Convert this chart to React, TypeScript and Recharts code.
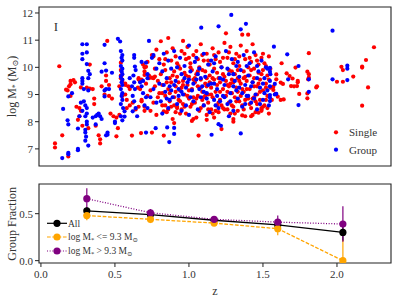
import {
  ScatterChart,
  Scatter,
  ComposedChart,
  Line,
  ErrorBar,
  XAxis,
  YAxis,
  ReferenceArea,
  Customized,
} from 'recharts'

// [z, log M*]
const singlePoints: [number, number][] = [
  [0.095, 7.2], [0.095, 7.05], [0.124, 10.04], [0.144, 7.5], [0.185, 6.72], [0.18, 9.15], [0.17, 9.18], [0.19, 9.3],
  [0.2, 9.5], [0.23, 9.45], [0.2, 8.95], [0.27, 9.26], [0.24, 8.55], [0.26, 8.5], [0.27, 8.4], [0.26, 8.2],
  [0.25, 8.07], [0.28, 7.85], [0.32, 7.76], [0.31, 9.25], [0.33, 9.22], [0.35, 9.2], [0.36, 8.85], [0.36, 8.65],
  [0.37, 7.85], [0.39, 7.5], [0.4, 7.35], [0.4, 7.2], [0.41, 9.3], [0.448, 10.97], [0.44, 9.7], [0.44, 9.5],
  [0.46, 9.35], [0.43, 9.0], [0.46, 8.95], [0.48, 8.85], [0.47, 8.3], [0.49, 8.2], [0.51, 8.15], [0.53, 8.25],
  [0.51, 7.46], [0.52, 7.76], [0.54, 9.7], [0.55, 9.5], [0.57, 9.35], [0.55, 8.95], [0.57, 9.0], [0.58, 8.8],
  [0.6, 9.2], [0.6, 8.6], [0.58, 8.5], [0.62, 8.7], [0.64, 8.45], [0.615, 7.49], [0.676, 7.58], [0.66, 8.55],
  [0.68, 8.8], [0.7, 8.4], [0.22, 9.53], [0.2, 9.38], [0.54, 10.17], [0.54, 9.9], [0.545, 9.7], [0.54, 9.6],
  [0.53, 9.3], [0.33, 10.1], [0.7, 10.0], [0.71, 10.02], [0.76, 10.4], [0.7, 9.72], [0.68, 9.55], [0.73, 9.6],
  [0.75, 9.62], [0.77, 9.66], [0.66, 9.6], [0.67, 9.5], [0.655, 9.25], [0.57, 9.4], [0.59, 9.3],
  [0.66, 9.55], [0.67, 9.2], [0.68, 8.75], [0.69, 10.1], [0.7, 9.85], [0.7, 8.55], [0.71, 9.4], [0.72, 10.2],
  [0.72, 8.95], [0.73, 9.7], [0.74, 8.4], [0.74, 9.15], [0.75, 10.45], [0.76, 9.6], [0.76, 8.7], [0.77, 9.95],
  [0.77, 9.3], [0.78, 8.25], [0.78, 10.65], [0.79, 9.5], [0.79, 8.9], [0.8, 10.3], [0.8, 9.05], [0.75, 7.6],
  [0.81, 10.96], [0.81, 9.75], [0.82, 8.6], [0.82, 9.35], [0.83, 10.1], [0.83, 7.49], [0.84, 8.95], [0.84, 9.9],
  [0.85, 10.55], [0.85, 8.35], [0.86, 11.08], [0.86, 9.2], [0.87, 9.6], [0.87, 8.75], [0.88, 10.25], [0.88, 9.45],
  [0.89, 8.1], [0.89, 10.7], [0.9, 7.95], [0.9, 9.85], [0.9, 8.9], [0.91, 9.3], [0.91, 10.4], [0.92, 8.5],
  [0.92, 9.65], [0.93, 10.05], [0.93, 8.8], [0.94, 9.15], [0.94, 9.95], [0.95, 8.45], [0.95, 10.6],
  [0.96, 10.97], [0.96, 9.5], [0.96, 8.65], [0.97, 9.8], [0.97, 9.0], [0.98, 10.3], [0.98, 8.3], [0.99, 9.35],
  [0.99, 10.75], [1.0, 8.85], [1.0, 9.65], [1.01, 10.15], [1.01, 8.55], [1.02, 9.2], [1.02, 9.9], [1.03, 8.1],
  [1.03, 10.45], [1.04, 9.45], [1.04, 8.7], [1.05, 9.75], [1.05, 10.6], [1.06, 8.95], [1.06, 9.3], [1.065, 7.49],
  [1.07, 10.0], [1.07, 8.4], [1.08, 9.55], [1.08, 10.85], [1.09, 8.8], [1.09, 9.1], [1.1, 10.25], [1.1, 8.6],
  [1.11, 9.85], [1.11, 9.4], [1.12, 8.25], [1.12, 10.5], [1.13, 9.0], [1.13, 8.7], [1.14, 9.7], [1.14, 10.1],
  [1.15, 8.45], [1.15, 9.25], [1.16, 10.7], [1.16, 8.9], [1.17, 9.55], [1.17, 8.15], [1.18, 10.3], [1.18, 9.1],
  [1.19, 8.6], [1.19, 9.8], [1.2, 10.55], [1.2, 8.35], [1.21, 9.45], [1.21, 8.8], [1.22, 7.73], [1.22, 10.0],
  [1.23, 9.2], [1.23, 8.5], [1.24, 9.65], [1.24, 10.9], [1.25, 11.25], [1.25, 8.95],
  [1.26, 9.35], [1.26, 10.35], [1.27, 8.7], [1.27, 9.9], [1.28, 8.3], [1.28, 10.75], [1.29, 9.55], [1.29, 9.05],
  [1.3, 10.15], [1.3, 8.55], [1.31, 9.75], [1.31, 8.9], [1.32, 10.5], [1.32, 9.25], [1.33, 8.4], [1.33, 9.6],
  [1.34, 10.05], [1.34, 8.75], [1.35, 9.4], [1.35, 10.8], [1.36, 11.2], [1.36, 8.6], [1.37, 9.85], [1.37, 9.1],
  [1.38, 10.3], [1.38, 8.2], [1.39, 9.5], [1.39, 10.6], [1.4, 11.2], [1.4, 8.85],
  [1.41, 9.7], [1.41, 9.2], [1.42, 10.2], [1.42, 8.5], [1.43, 9.45], [1.43, 10.85], [1.44, 8.9], [1.44, 9.95],
  [1.45, 8.35], [1.45, 10.45], [1.46, 9.3], [1.46, 8.65], [1.47, 9.8], [1.47, 10.1], [1.48, 8.8], [1.48, 9.55],
  [1.49, 10.35], [1.49, 8.45], [1.5, 9.15], [1.5, 9.9], [1.51, 8.6], [1.52, 10.05], [1.52, 9.4], [1.53, 8.95],
  [1.53, 9.7], [1.54, 10.4], [1.54, 8.3], [1.55, 9.25],
  [0.91, 8.35], [0.93, 9.45], [0.95, 9.25], [0.97, 8.55], [0.98, 9.7], [1.0, 9.15], [1.01, 10.0], [1.03, 8.9],
  [1.04, 9.6], [1.06, 10.3], [1.08, 8.5], [1.09, 9.9], [1.11, 8.95], [1.12, 9.6], [1.13, 10.25], [1.15, 9.0],
  [1.16, 8.3], [1.17, 9.95], [1.19, 9.35], [1.2, 8.7], [1.21, 10.2], [1.23, 9.75], [1.24, 8.45], [1.26, 9.1],
  [1.27, 10.55], [1.28, 9.4], [1.29, 8.6], [1.31, 10.3], [1.32, 8.75], [1.33, 9.9], [1.34, 9.5], [1.36, 9.2],
  [1.37, 8.45], [1.38, 9.65], [1.4, 10.0], [1.41, 8.65], [1.42, 9.9], [1.44, 9.3], [1.45, 8.75], [1.46, 10.25],
  [1.48, 9.1], [1.5, 8.55], [1.51, 10.15], [1.52, 8.8], [1.54, 9.55], [1.02, 8.03], [1.05, 8.15], [1.12, 8.07],
  [1.3, 8.1], [1.3, 8.0], [1.36, 8.23], [1.42, 8.2], [1.43, 8.25], [1.49, 8.4], [1.49, 8.5], [0.84, 8.6],
  [0.86, 8.45], [0.83, 8.38], [0.92, 8.55], [0.94, 8.3], [1.47, 8.33], [1.56, 8.8],
  [0.87, 9.05], [0.89, 9.7], [0.9, 8.6], [0.92, 10.15], [0.94, 8.75], [0.96, 9.35], [0.97, 10.5], [0.99, 8.95],
  [1.0, 10.35], [1.02, 8.65], [1.03, 9.55], [1.05, 8.85], [1.06, 9.85], [1.08, 9.25], [1.09, 10.45], [1.1, 8.9],
  [1.12, 9.3], [1.13, 8.45], [1.14, 9.45], [1.16, 9.6], [1.17, 10.45], [1.18, 8.4], [1.2, 9.6], [1.21, 9.1],
  [1.22, 8.6], [1.23, 10.35], [1.25, 9.5], [1.26, 8.45], [1.27, 9.3], [1.29, 9.85], [1.3, 9.45], [1.31, 8.3],
  [1.33, 9.1], [1.34, 10.4], [1.35, 8.95], [1.37, 9.6], [1.38, 8.8], [1.39, 9.2], [1.41, 10.35], [1.43, 8.85],
  [1.44, 9.6], [1.46, 9.0], [1.47, 9.4], [1.49, 9.75], [1.5, 10.5], [1.52, 9.25], [1.53, 8.5], [1.55, 9.95],
  [0.82, 9.05], [0.84, 10.3], [0.85, 9.45], [0.88, 8.55], [0.91, 9.1],
  [1.626, 10.15], [1.59, 9.74], [1.59, 9.56], [1.57, 9.29], [1.57, 9.17], [1.585, 9.02], [1.6, 8.92], [1.62, 9.44],
  [1.635, 9.39], [1.64, 8.82], [1.62, 8.8], [1.66, 9.78], [1.68, 9.68], [1.7, 9.59], [1.69, 9.31], [1.71, 9.3],
  [1.73, 9.31], [1.72, 9.99], [1.735, 9.5], [1.735, 9.45], [1.745, 9.02], [1.8, 9.84], [1.81, 9.75], [1.81, 9.62],
  [1.805, 9.56], [1.81, 10.52], [1.8, 9.04], [1.8, 8.86], [1.86, 9.26], [1.865, 9.3], [2.0, 9.47], [2.04, 9.47],
  [2.03, 10.02], [2.04, 9.9], [2.11, 9.66], [2.17, 10.03], [2.17, 9.99], [2.196, 10.27], [2.25, 10.74], [2.21, 9.26],
  [2.17, 8.59],
]

const groupPoints: [number, number][] = [
  [0.144, 6.66], [0.185, 6.85], [0.185, 6.8], [0.15, 8.47], [0.18, 8.05], [0.185, 7.9], [0.185, 8.93], [0.21, 9.05],
  [0.25, 7.75], [0.25, 7.0], [0.25, 6.95], [0.28, 9.6], [0.28, 9.5], [0.29, 9.2], [0.28, 10.85], [0.31, 10.85],
  [0.28, 10.5], [0.28, 10.3], [0.31, 10.55], [0.31, 10.12], [0.32, 9.87], [0.33, 9.75], [0.32, 9.6], [0.28, 9.4],
  [0.32, 9.15], [0.27, 8.7], [0.29, 8.75], [0.3, 8.6], [0.31, 8.5], [0.28, 8.4], [0.31, 8.3], [0.3, 8.2],
  [0.26, 8.2], [0.31, 8.0], [0.31, 7.9], [0.3, 7.7], [0.3, 7.6], [0.305, 7.45], [0.3, 7.3], [0.32, 7.12],
  [0.37, 7.9], [0.35, 8.15], [0.37, 8.2], [0.38, 8.25], [0.4, 8.2], [0.41, 8.1], [0.39, 8.3], [0.43, 9.15],
  [0.44, 9.2], [0.43, 10.83], [0.43, 10.15], [0.44, 9.88], [0.41, 9.84], [0.44, 7.5], [0.45, 7.6], [0.46, 9.2],
  [0.48, 9.8], [0.5, 8.0], [0.5, 7.95], [0.43, 8.93], [0.45, 7.52],
  [0.52, 11.05], [0.535, 10.95], [0.54, 10.6], [0.55, 10.45], [0.545, 10.35], [0.55, 10.25], [0.54, 10.05],
  [0.55, 9.95], [0.545, 9.85], [0.55, 9.75], [0.54, 9.65], [0.55, 9.55], [0.545, 9.45], [0.55, 9.35], [0.54, 9.2],
  [0.55, 9.05], [0.545, 8.95], [0.55, 8.8], [0.54, 8.65], [0.555, 8.5], [0.565, 8.38], [0.54, 8.2], [0.565, 8.19],
  [0.55, 8.05],
  [0.63, 10.45], [0.63, 10.35], [0.635, 10.03], [0.64, 9.9], [0.625, 9.7], [0.63, 9.45], [0.635, 9.2], [0.62, 8.95],
  [0.63, 8.75], [0.64, 8.5], [0.62, 8.38], [0.65, 8.2], [0.6, 9.6], [0.615, 9.3],
  [0.68, 10.2], [0.71, 10.17], [0.73, 10.97], [0.75, 10.35], [0.76, 10.45], [0.78, 9.95], [0.72, 9.75], [0.72, 9.6],
  [0.67, 9.45], [0.68, 9.3], [0.69, 9.5], [0.71, 7.6], [0.775, 7.76], [0.72, 8.5], [0.74, 8.9], [0.69, 9.05],
  [0.76, 9.2], [0.78, 8.7], [0.7, 8.6], [0.71, 8.9],
  [0.8, 10.15], [0.8, 9.4], [0.81, 8.75], [0.82, 9.85], [0.82, 8.3], [0.83, 10.5], [0.84, 9.1], [0.85, 9.6],
  [0.853, 7.79], [0.86, 8.5], [0.86, 10.25], [0.867, 7.25], [0.87, 9.3], [0.88, 9.95], [0.89, 8.9], [0.9, 7.77],
  [0.9, 7.55], [0.9, 10.6], [0.91, 9.5], [0.92, 8.65], [0.93, 9.2], [0.94, 10.35], [0.95, 9.75], [0.95, 8.4],
  [0.96, 9.0], [0.97, 10.05], [0.98, 8.6], [0.99, 9.45], [1.0, 10.8], [1.0, 8.25], [1.01, 9.85], [1.02, 9.15],
  [1.03, 8.75], [1.04, 10.2], [1.05, 9.55], [1.06, 8.45], [1.07, 9.95], [1.083, 11.46], [1.08, 8.9], [1.09, 9.3],
  [1.1, 10.5], [1.1, 8.6], [1.11, 9.65], [1.12, 9.05], [1.13, 10.1], [1.14, 8.35], [1.153, 7.52], [1.15, 9.4],
  [1.16, 9.85], [1.17, 8.8], [1.18, 10.4], [1.19, 9.2], [1.2, 11.51], [1.2, 7.91], [1.2, 8.5], [1.21, 9.6],
  [1.216, 7.85], [1.22, 10.0], [1.23, 8.95], [1.24, 9.35], [1.25, 10.6], [1.26, 8.65], [1.27, 9.75], [1.28, 9.05],
  [1.286, 11.93], [1.29, 10.3], [1.3, 8.4], [1.31, 9.5], [1.32, 10.05], [1.33, 8.85], [1.34, 9.25], [1.35, 7.57],
  [1.35, 11.4], [1.35, 9.9], [1.36, 8.55], [1.37, 10.45], [1.38, 9.35], [1.385, 11.6], [1.39, 8.95], [1.4, 9.7],
  [1.41, 10.15], [1.42, 8.7], [1.43, 9.45], [1.44, 10.55], [1.45, 9.0], [1.46, 8.45], [1.47, 9.85], [1.48, 9.25],
  [1.49, 10.25], [1.5, 8.8], [1.51, 9.6], [1.52, 10.0], [1.53, 9.15], [1.54, 8.6], [1.55, 9.75],
  [0.88, 9.15], [0.93, 8.95], [0.97, 9.6], [1.01, 8.9], [1.07, 9.2], [1.13, 9.35], [1.18, 8.6], [1.24, 8.9],
  [1.3, 9.3], [1.34, 9.65], [1.4, 8.95], [1.46, 9.6], [1.5, 9.4], [1.27, 8.2], [1.17, 10.15], [1.06, 9.75],
  [0.87, 8.8], [0.9, 9.35], [0.92, 10.0], [0.95, 9.1], [0.98, 9.25], [1.0, 9.55], [1.03, 9.4], [1.05, 10.35],
  [1.08, 9.6], [1.1, 9.1], [1.12, 8.85], [1.15, 10.25], [1.17, 9.4], [1.19, 8.95], [1.21, 8.75], [1.23, 9.55],
  [1.26, 9.95], [1.28, 8.75], [1.3, 9.75], [1.32, 9.15], [1.33, 10.2], [1.36, 9.05], [1.38, 8.65], [1.39, 10.05],
  [1.42, 9.3], [1.44, 8.85], [1.46, 10.05], [1.48, 8.65], [1.51, 9.05], [1.53, 9.95], [0.83, 9.35], [0.85, 8.85],
  [1.547, 9.98], [1.547, 9.84], [1.574, 10.76], [1.547, 8.98], [1.547, 8.89], [1.547, 8.76], [1.58, 9.0],
  [1.59, 9.02], [1.58, 9.39], [1.664, 10.48], [1.67, 9.56], [1.74, 10.05], [1.74, 8.61], [1.81, 9.56], [1.81, 9.1],
  [1.97, 11.35], [1.97, 9.56], [2.07, 10.06], [2.07, 9.95], [2.07, 9.53], [1.547, 9.5], [1.547, 9.3],
]

const zTicks = [0, 0.5, 1, 1.5, 2]
const massTicks = [7, 8, 9, 10, 11, 12]
const fracTicks = [0, 0.5]

// group fraction per redshift bin
const binZ = [0.31, 0.74, 1.17, 1.6, 2.04]
const fracAll = [0.53, 0.49, 0.43, 0.38, 0.3]
const fracLow = [0.48, 0.44, 0.4, 0.34, 0.0]
const fracHigh = [0.66, 0.51, 0.44, 0.41, 0.39]
const errAll = [0.04, 0.03, 0.02, 0.03, 0.09]
const errLow: [number, number][] = [[0.05, 0.05], [0.04, 0.04], [0.025, 0.025], [0.07, 0.05], [0, 0.22]]
const errHigh = [0.11, 0.04, 0.03, 0.07, 0.19]

const FONT = '"Liberation Serif", "DejaVu Serif", serif'
const INK = '#222'
const TEXT = '#333'
const X_DOMAIN: [number, number] = [-0.013, 2.365]
const M_DOMAIN: [number, number] = [6.37, 12.22]
const F_DOMAIN: [number, number] = [-0.025, 0.816]

const RED = '#ff0000'
const BLUE = '#0000ff'
const BLACK = '#000000'
const ORANGE = '#ffa500'
const PURPLE = '#800080'

const singleData = singlePoints.map(([z, m]) => ({ z, m }))
const groupData = groupPoints.map(([z, m]) => ({ z, m }))
const fracData = binZ.map((z, i) => ({
  z,
  all: fracAll[i],
  low: fracLow[i],
  high: fracHigh[i],
  allErr: errAll[i],
  lowErr: errLow[i],
  highErr: errHigh[i],
}))

const dotShape = (color: string) => (p: any) => <circle cx={p.cx} cy={p.cy} r={2.1} fill={color} />

const tickStyle = { fontSize: 11, fill: TEXT, fontFamily: FONT }

function TopLabels() {
  return (
    <g fontFamily={FONT} fill={TEXT}>
      <text x={56} y={31} fontSize={13} textAnchor="middle">I</text>
      <text transform="translate(16,86.5) rotate(-90)" fontSize={12} textAnchor="middle">
        log M<tspan fontSize={8} dy={2}>*</tspan><tspan dy={-2}> (M</tspan>
        <tspan fontSize={8} dy={2}>⊙</tspan><tspan dy={-2}>)</tspan>
      </text>
      <circle cx={336} cy={132.3} r={2.1} fill={RED} />
      <text x={349} y={136} fontSize={11}>Single</text>
      <circle cx={336} cy={149.7} r={2.1} fill={BLUE} />
      <text x={349} y={153.5} fontSize={11}>Group</text>
    </g>
  )
}

const legendRows = [
  { color: BLACK, dash: undefined, y: 48.3, label: 'all' },
  { color: ORANGE, dash: '3.7 1.6', y: 62, label: 'low' },
  { color: PURPLE, dash: '1 1.65', y: 76, label: 'high' },
]

function BottomLabels() {
  return (
    <g fontFamily={FONT} fill={TEXT}>
      <text transform="translate(16,48.8) rotate(-90)" fontSize={12} textAnchor="middle">Group Fraction</text>
      <text x={215} y={120} fontSize={12} textAnchor="middle">z</text>
      {legendRows.map((r) => (
        <g key={r.label}>
          <line x1={47} x2={67} y1={r.y} y2={r.y} stroke={r.color} strokeWidth={1.2} strokeDasharray={r.dash} />
          <circle cx={57} cy={r.y} r={3.6} fill={r.color} />
        </g>
      ))}
      <text x={68} y={51.5} fontSize={9.5}>All</text>
      <text x={68} y={65.2} fontSize={9.5}>
        log M<tspan fontSize={6.5} dy={1.5}>*</tspan><tspan dy={-1.5}> {'<='} 9.3 M</tspan>
        <tspan fontSize={6.5} dy={1.5}>⊙</tspan>
      </text>
      <text x={68} y={79.2} fontSize={9.5}>
        log M<tspan fontSize={6.5} dy={1.5}>*</tspan><tspan dy={-1.5}> {'>'} 9.3 M</tspan>
        <tspan fontSize={6.5} dy={1.5}>⊙</tspan>
      </text>
    </g>
  )
}

export default function App() {
  return (
    <div style={{ position: 'absolute', left: 0, top: 0, width: 399, height: 299, background: '#fff' }}>
      <ScatterChart width={399} height={175} margin={{ top: 7, right: 8, bottom: 0, left: 0 }}>
        <XAxis
          type="number"
          dataKey="z"
          domain={X_DOMAIN}
          ticks={zTicks}
          allowDataOverflow
          height={9}
          tick={false}
          tickSize={4}
          axisLine={false}
          tickLine={{ stroke: INK }}
        />
        <YAxis
          type="number"
          dataKey="m"
          domain={M_DOMAIN}
          ticks={massTicks}
          allowDataOverflow
          width={39}
          tickSize={4}
          tickMargin={2}
          axisLine={false}
          tickLine={{ stroke: INK }}
          tick={tickStyle}
        />
        <Scatter data={singleData} shape={dotShape(RED)} isAnimationActive={false} />
        <Scatter data={groupData} shape={dotShape(BLUE)} isAnimationActive={false} />
        <ReferenceArea x1={X_DOMAIN[0]} x2={X_DOMAIN[1]} y1={M_DOMAIN[0]} y2={M_DOMAIN[1]} fill="none" stroke={INK} strokeWidth={1.1} />
        <Customized component={TopLabels} />
      </ScatterChart>
      <ComposedChart width={399} height={124} data={fracData} margin={{ top: 9, right: 8, bottom: 11, left: 0 }}>
        <XAxis
          type="number"
          dataKey="z"
          domain={X_DOMAIN}
          ticks={zTicks}
          allowDataOverflow
          height={25}
          tickSize={4}
          tickMargin={3}
          axisLine={false}
          tickLine={{ stroke: INK }}
          tick={tickStyle}
          tickFormatter={(v: number) => v.toFixed(1)}
        />
        <YAxis
          type="number"
          domain={F_DOMAIN}
          ticks={fracTicks}
          allowDataOverflow
          width={39}
          tickSize={4}
          tickMargin={2}
          axisLine={false}
          tickLine={{ stroke: INK }}
          tick={tickStyle}
          tickFormatter={(v: number) => v.toFixed(1)}
        />
        <Line dataKey="all" stroke={BLACK} strokeWidth={1.3} dot={{ r: 3.6, fill: BLACK, stroke: BLACK, strokeWidth: 0 }} activeDot={false} isAnimationActive={false}>
          <ErrorBar dataKey="allErr" direction="y" width={0} stroke={BLACK} strokeWidth={1.2} />
        </Line>
        <Line dataKey="low" stroke={ORANGE} strokeWidth={1.3} strokeDasharray="3.7 1.6" dot={{ r: 3.6, fill: ORANGE, stroke: ORANGE, strokeWidth: 0 }} activeDot={false} isAnimationActive={false}>
          <ErrorBar dataKey="lowErr" direction="y" width={0} stroke={ORANGE} strokeWidth={1.2} />
        </Line>
        <Line dataKey="high" stroke={PURPLE} strokeWidth={1.3} strokeDasharray="1 1.65" dot={{ r: 3.6, fill: PURPLE, stroke: PURPLE, strokeWidth: 0 }} activeDot={false} isAnimationActive={false}>
          <ErrorBar dataKey="highErr" direction="y" width={0} stroke={PURPLE} strokeWidth={1.2} />
        </Line>
        <ReferenceArea x1={X_DOMAIN[0]} x2={X_DOMAIN[1]} y1={F_DOMAIN[0]} y2={F_DOMAIN[1]} fill="none" stroke={INK} strokeWidth={1.1} />
        <Customized component={BottomLabels} />
      </ComposedChart>
    </div>
  )
}
